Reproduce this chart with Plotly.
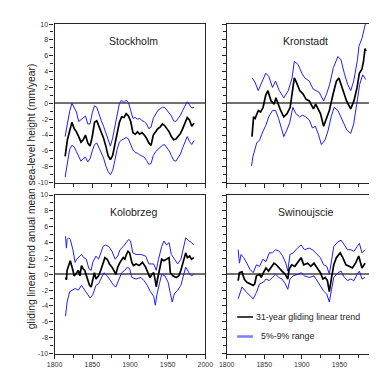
import plotly.graph_objects as go

# ---------------- data ----------------
sto_years = list(range(1814, 1986, 3))
sto_trend = [-6.7,-4.6,-3.5,-2.4,-3.2,-3.6,-4.2,-4.9,-4.6,-4.0,-5.0,-5.4,-4.2,-2.4,-2.2,-2.9,-3.6,-4.4,-5.4,-6.6,
             -7.1,-6.6,-5.2,-3.6,-2.4,-1.7,-1.8,-1.3,-1.6,-2.3,-3.7,-3.9,-3.6,-3.9,-3.7,-4.0,-4.4,-5.0,-5.3,-4.0,
             -3.6,-3.2,-3.0,-2.6,-2.8,-3.2,-3.6,-4.2,-4.6,-4.5,-4.2,-3.8,-3.2,-2.6,-1.8,-2.1,-2.9,-2.5]
sto_upper = [-4.2,-2.5,-1.0,0.0,-0.6,-1.1,-2.3,-2.1,-1.8,-1.6,-2.6,-2.6,-1.2,-0.3,-0.5,-1.5,-2.2,-2.9,-3.8,-4.8,
             -5.4,-4.4,-3.0,-1.2,0.0,0.4,0.1,0.4,0.1,-0.9,-1.9,-1.8,-2.0,-1.9,-2.2,-2.3,-2.6,-3.2,-3.0,-1.9,
             -1.3,-0.9,-0.7,-0.5,-0.5,-0.9,-1.2,-1.6,-2.2,-2.3,-1.9,-1.5,-0.9,-0.3,0.2,-0.2,-0.6,-0.5]
sto_lower = [-9.3,-7.5,-5.8,-5.3,-5.5,-6.1,-6.8,-7.3,-7.0,-6.8,-7.4,-7.0,-6.0,-5.2,-5.0,-5.6,-6.2,-6.9,-7.9,-8.6,
             -9.0,-8.5,-7.2,-5.8,-4.9,-4.6,-4.5,-4.3,-4.5,-5.3,-5.9,-6.2,-6.3,-6.5,-6.6,-6.8,-7.2,-7.7,-7.6,-6.6,
             -6.1,-5.8,-5.6,-5.3,-5.2,-5.6,-6.0,-6.6,-7.2,-7.3,-6.9,-6.4,-5.6,-4.9,-4.2,-4.8,-5.2,-4.7]

kro_trend_years = [1833.7,1835.8,1837.9,1840,1842.1,1845.1,1848.5,1851.9,1854.9,1859.1,1863.3,1865.5,1868.5,1871.8,
                   1876,1880.3,1884.5,1886.6,1890,1893,1897.2,1901.5,1905.7,1910,1915.5,1918.4,1924.8,1929,1933.3,
                   1936.6,1941.7,1946,1949.3,1952.3,1956.6,1959.5,1965,1969.3,1973.5,1976.5,1979.9,1982,1984.1,1985.4]
kro_trend = [-4.2,-1.7,-1.9,-1.3,-0.9,-1.1,-0.5,1.0,1.6,0.3,-0.1,0.7,-0.2,-0.9,-1.7,-1.3,-0.5,1.2,3.2,2.6,1.6,1.2,
             0.5,0.3,-0.7,-0.1,-1.3,-2.9,-1.7,-0.9,1.2,2.8,3.2,2.4,1.2,0.3,-0.7,0.3,2.0,3.8,4.3,5.3,6.9,6.6]
kro_upper_years = [1834,1838,1842,1846,1852,1856,1861,1865,1870,1876,1882,1887,1890,1895,1900,1904,1910,1915,1923,
                   1929,1933,1937,1942,1948,1952,1957,1961,1965,1969,1974,1976,1980,1982,1985]
kro_upper = [3.2,2.6,1.6,2.4,3.8,3.4,2.0,2.8,1.6,0.7,1.6,3.2,5.3,4.9,3.8,3.2,2.8,1.8,1.4,0.3,1.2,2.4,4.5,5.9,5.5,
             3.6,2.4,1.6,2.8,5.5,7.2,8.2,9.0,10.2]
kro_lower_years = [1833,1835,1840,1844,1848,1852,1856,1861,1865,1869,1873,1876,1880,1884,1888,1892,1897,1901,1905,
                   1910,1914,1918,1922,1926,1931,1935,1939,1943,1948,1952,1956,1960,1965,1969,1973,1977,1981,1985]
kro_lower = [-7.9,-6.7,-5.0,-4.6,-3.6,-2.8,-1.7,-0.9,-0.9,-1.9,-3.2,-4.2,-3.4,-2.4,-0.5,-1.3,-1.7,-1.5,-1.7,-2.1,
             -3.1,-2.9,-3.9,-5.2,-4.6,-3.4,-1.7,-0.5,-0.9,-1.7,-2.6,-3.4,-3.8,-2.6,-0.1,2.4,3.6,3.0]

kol_trend_years = [1814.5,1815.7,1816.6,1818.7,1820.8,1824.3,1826,1829.4,1831.5,1833.6,1835.7,1837.9,1840,1843,1846.4,
                   1848.5,1850.6,1852.8,1854.9,1858.3,1861.3,1864.3,1866.8,1869.8,1872.8,1876.2,1879.6,1881.3,1883.8,
                   1886.8,1891.1,1893.2,1895.3,1897.4,1899.6,1902.5,1904.7,1908.1,1912.3,1916.6,1920.8,1923.8,1926.4,
                   1929.4,1931.5,1933.6,1934.9,1936.6,1940,1942.1,1945.1,1948.5,1951.9,1953.6,1957,1961.3,1964.7,
                   1967.6,1970.6,1974,1976.2,1979.1,1981.7,1984.7]
kol_trend = [-0.4,-0.7,0.5,1.1,1.7,0.5,-0.2,0.2,0.5,-0.2,1.1,0.7,0.5,-0.4,-1.4,-1.6,-0.8,0.2,-0.6,-0.2,0.5,1.3,2.1,
             1.9,1.3,0.9,0.2,0.0,0.9,1.5,2.1,1.9,2.5,2.9,2.7,1.5,1.1,1.3,1.1,1.5,0.9,0.2,-0.4,0.0,0.2,-0.8,-1.6,-0.6,
             0.9,1.9,1.7,1.9,2.1,0.2,-0.2,-0.4,-0.2,0.5,1.7,2.7,2.1,2.3,1.9,2.1]
kol_upper_years = [1814.5,1815.7,1816.6,1818.7,1820.8,1824.3,1827.2,1829.4,1835.7,1838.7,1842.1,1845.5,1848.5,1850.6,
                   1854.9,1858.3,1861.3,1864.3,1867.7,1871.9,1876.2,1880.4,1883.8,1886.8,1891.1,1895.3,1898.3,1900.8,
                   1903.8,1908.1,1914.5,1920.8,1925.1,1931.5,1934.9,1937.9,1942.1,1945.1,1948.5,1951.9,1954.9,1959.1,
                   1963.4,1967.6,1970.6,1974,1978.3,1981.7,1984.7]
kol_upper = [4.8,3.3,4.4,4.6,4.4,3.1,1.5,1.9,2.5,2.1,1.9,0.7,0.5,1.5,2.3,1.9,2.7,3.5,3.7,3.5,2.9,1.9,2.3,3.1,3.5,4.0,
             4.4,4.2,2.7,2.5,2.5,2.3,1.3,1.3,0.5,1.9,3.5,4.2,3.7,4.0,2.5,1.9,1.3,1.9,3.3,4.6,4.2,4.0,3.7]
kol_lower_years = [1814.5,1816.6,1820,1823,1827.2,1831.5,1835.7,1840,1844.2,1847.2,1850.6,1854.9,1858.3,1861.3,1865.5,
                   1869.8,1874,1878.3,1881.3,1884.7,1889,1893.2,1896.6,1899.6,1902.5,1908.1,1914.5,1918.7,1923,1927.2,
                   1931.5,1933.6,1935.7,1939.1,1942.1,1946.4,1950.6,1953.6,1956.1,1959.1,1963.4,1967.6,1970.6,1974,
                   1978.3,1981.7,1984.7]
kol_lower = [-5.3,-3.5,-2.2,-2.0,-1.8,-2.0,-1.4,-2.0,-2.6,-3.0,-2.6,-1.4,-1.2,-0.6,0.2,-0.2,-0.8,-1.4,-1.6,-0.8,0.2,
             0.5,0.9,0.7,-0.4,-0.6,-0.4,-0.8,-1.4,-2.2,-2.8,-3.9,-2.6,-1.2,0.0,-0.2,-1.0,-2.4,-3.5,-2.4,-2.0,-1.4,
             -0.4,0.9,0.2,-0.2,0.0]

swi_trend_years = [1815.3,1817,1820.4,1823.4,1826.8,1831.1,1835.3,1837.4,1839.6,1843.8,1846,1848.9,1852.3,1855.7,
                   1858.7,1863,1866,1869.4,1873.6,1877.9,1881.3,1883,1886.4,1890.6,1894.9,1899.1,1902.5,1907.7,1911.9,
                   1916.2,1920.4,1924.7,1928.1,1931.1,1934,1936.6,1939.6,1942.5,1945.9,1951,1954.5,1958.7,1963,
                   1967.2,1971.5,1975.7,1980,1984.2]
swi_trend = [-0.8,0.2,0.3,-0.6,-1.0,-1.2,-1.4,-1.2,-0.2,0.0,-0.4,0.2,0.8,0.4,0.8,1.4,1.2,0.8,0.4,0.0,-0.6,0.6,1.2,1.0,
             1.6,2.1,1.2,1.4,1.0,1.4,0.8,0.2,-0.6,-0.4,-0.8,-2.2,-0.4,1.2,2.1,2.7,2.1,1.2,1.0,0.8,1.4,2.3,0.8,1.4]
swi_upper_years = [1815.3,1817,1819.1,1822.6,1826.8,1831.1,1835.3,1839.6,1843.8,1848.1,1852.3,1856.6,1860.8,1865.1,
                   1870.2,1874.5,1878.7,1881.3,1884.2,1888.5,1894,1899.1,1903.4,1909.8,1914,1920.4,1924.7,1928.9,
                   1933.2,1936.6,1939.6,1942.5,1948.1,1952.3,1956.6,1960.8,1965.1,1969.3,1973.6,1976.6,1980,1984.2]
swi_upper = [3.1,1.4,2.5,2.1,1.4,0.6,0.2,1.2,1.0,1.9,1.6,2.7,2.7,3.1,2.9,2.3,1.4,0.4,2.5,2.7,3.3,3.7,3.1,3.3,3.1,
             2.5,2.1,1.2,1.0,0.0,1.9,3.5,4.1,4.3,3.7,3.1,3.1,2.9,3.5,3.9,2.7,3.1]
swi_lower_years = [1815.3,1818.3,1820.4,1824.7,1829,1833.2,1835.3,1839.6,1843.8,1848.9,1852.3,1856.6,1860.8,1865.1,
                   1869.4,1873.6,1877.9,1881.3,1884.2,1888.5,1894.9,1899.1,1903.4,1909.8,1916.2,1920.4,1924.7,1928.9,
                   1933.2,1936.6,1939.6,1942.5,1948.1,1952.3,1956.6,1960.8,1965.1,1969.3,1973.6,1976.6,1980,1984.2]
swi_lower = [-3.1,-2.3,-1.6,-2.1,-2.5,-2.9,-3.1,-2.3,-1.2,-1.0,-0.6,-0.8,-0.4,0.0,-0.4,-0.6,-1.2,-1.9,-0.6,-0.2,0.0,
             0.2,-0.2,-0.4,-0.2,-0.8,-1.4,-2.1,-2.5,-3.5,-1.9,-0.4,0.2,0.4,-0.4,-0.8,-0.6,-0.8,0.0,0.4,-0.6,-0.4]

station_names = ["Stockholm", "Kronstadt", "Kolobrzeg", "Swinoujscie"]
x_ticks = [1800, 1850, 1900, 1950, 2000]
x_minor = [1825, 1875, 1925, 1975]
y_ticks = list(range(-10, 11, 2))
y_ticktext = [str(v) for v in y_ticks]
y_minor = list(range(-9, 10, 2))
legend_labels = ["31-year gliding linear trend", "5%-9% range"]
y_title = "gliding linear trend anual mean sea-level height (mm/year)"
x_title = "years"

# ---------------- figure ----------------
FONT = "Liberation Sans, Arial, sans-serif"
BLUE = "rgb(30,30,255)"
AX = "#262626"

stations = [
    (sto_years, sto_trend, sto_years, sto_upper, sto_years, sto_lower),
    (kro_trend_years, kro_trend, kro_upper_years, kro_upper, kro_lower_years, kro_lower),
    (kol_trend_years, kol_trend, kol_upper_years, kol_upper, kol_lower_years, kol_lower),
    (swi_trend_years, swi_trend, swi_upper_years, swi_upper, swi_lower_years, swi_lower),
]
for s in stations:
    for i in range(0, 6, 2):
        assert len(s[i]) == len(s[i + 1]), (len(s[i]), len(s[i + 1]))

fig = go.Figure()
W, H = 377, 376
xdom_left = [40.3 / W, 197.7 / W]
xdom_right = [220.0 / W, 1.0]
ydom_top = [1 - 173.8 / H, 1 - 12.3 / H]
ydom_bot = [1 - 348.0 / H, 1 - 186.5 / H]
doms = [(xdom_left, ydom_top), (xdom_right, ydom_top), (xdom_left, ydom_bot), (xdom_right, ydom_bot)]

for k, (ty, tv, uy, uv, ly, lv) in enumerate(stations):
    n = "" if k == 0 else str(k + 1)
    xa, ya = "x" + n, "y" + n
    fig.add_trace(go.Scatter(x=uy, y=uv, mode="lines", line=dict(color=BLUE, width=1), xaxis=xa, yaxis=ya,
                             showlegend=False, hoverinfo="skip"))
    fig.add_trace(go.Scatter(x=ly, y=lv, mode="lines", line=dict(color=BLUE, width=1), xaxis=xa, yaxis=ya,
                             showlegend=False, hoverinfo="skip"))
    fig.add_trace(go.Scatter(x=ty, y=tv, mode="lines", line=dict(color="black", width=1.7), xaxis=xa, yaxis=ya,
                             showlegend=False, hoverinfo="skip"))
    xd, yd = doms[k]
    left = k in (0, 2)
    bottom = k in (2, 3)
    fig.layout["xaxis" + n] = dict(
        domain=xd, anchor=ya, range=[1800, 2000], tickvals=x_ticks, ticks="outside", ticklen=4,
        tickcolor=AX, tickwidth=1, showline=True, linecolor=AX, linewidth=1.3, mirror=True,
        showgrid=False, zeroline=False, showticklabels=bottom,
        tickfont=dict(family=FONT, size=7, color="#333"),
        minor=dict(tickvals=x_minor, ticks="outside", ticklen=3, tickcolor=AX, showgrid=False),
    )
    fig.layout["yaxis" + n] = dict(
        domain=yd, anchor=xa, range=[-10, 10], tickvals=y_ticks, ticktext=y_ticktext, ticks="outside",
        ticklen=4, tickcolor=AX, tickwidth=1, showline=True, linecolor=AX, linewidth=1.3, mirror=left,
        showgrid=False, zeroline=True, zerolinecolor="#707070", zerolinewidth=1.5,
        showticklabels=left, tickfont=dict(family=FONT, size=7, color="#333"),
        minor=dict(tickvals=y_minor, ticks="outside", ticklen=3, tickcolor=AX, showgrid=False),
    )
    fig.add_annotation(x=1905, y=7.9, xref=xa, yref=ya, text=station_names[k], showarrow=False,
                       font=dict(family=FONT, size=10.5, color="#222"))

# legend drawn inside the bottom-right panel
fig.add_shape(type="line", xref="x4", yref="y4", x0=1814, x1=1835, y0=-5.4, y1=-5.4,
              line=dict(color="black", width=1.6))
fig.add_shape(type="line", xref="x4", yref="y4", x0=1814, x1=1835, y0=-7.85, y1=-7.85,
              line=dict(color="rgb(125,125,255)", width=2.5))
fig.add_annotation(x=1838, y=-5.4, xref="x4", yref="y4", text=legend_labels[0], showarrow=False,
                   xanchor="left", borderpad=0, font=dict(family=FONT, size=8.8, color="#222"))
fig.add_annotation(x=1845, y=-7.85, xref="x4", yref="y4", text=legend_labels[1], showarrow=False,
                   xanchor="left", borderpad=0, font=dict(family=FONT, size=8.8, color="#222"))

fig.add_annotation(x=8.5 / W, y=1 - 188 / H, xref="paper", yref="paper", text=y_title, textangle=-90,
                   showarrow=False, font=dict(family=FONT, size=10.3, color="#222"))
for cx in (119.0, 299.0):
    fig.add_annotation(x=cx / W, y=1 - 370.5 / H, xref="paper", yref="paper", text=x_title, yanchor="top",
                       showarrow=False, font=dict(family=FONT, size=10, color="#222"))

fig.update_layout(width=W, height=H, margin=dict(l=0, r=0, t=0, b=0), paper_bgcolor="white",
                  plot_bgcolor="white", showlegend=False)
fig.write_html("out.html")
